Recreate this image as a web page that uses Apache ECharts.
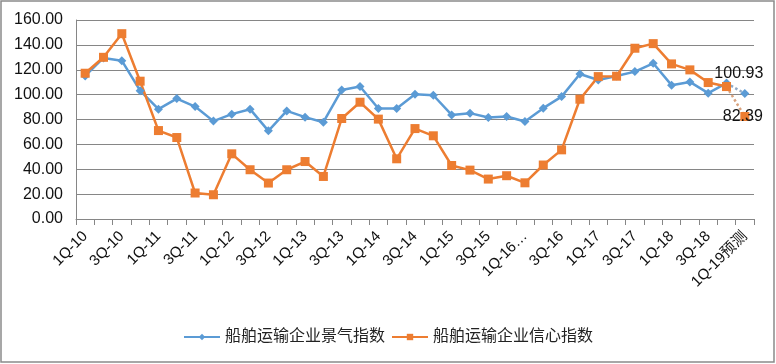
<!DOCTYPE html>
<html><head><meta charset="utf-8">
<script src="https://cdn.jsdelivr.net/npm/echarts@6/dist/echarts.min.js"></script>
<style>html,body{margin:0;padding:0;background:#fff}#c{width:776px;height:364px}</style>
</head><body><div id="c"></div>
<script>
const categories = ['1Q-10','2Q-10','3Q-10','4Q-10','1Q-11','2Q-11','3Q-11','4Q-11','1Q-12','2Q-12','3Q-12','4Q-12',
  '1Q-13','2Q-13','3Q-13','4Q-13','1Q-14','2Q-14','3Q-14','4Q-14','1Q-15','2Q-15','3Q-15','4Q-15',
  '1Q-16…','2Q-16','3Q-16','4Q-16','1Q-17','2Q-17','3Q-17','4Q-17','1Q-18','2Q-18','3Q-18','4Q-18','1Q-19预测'];
const prosperity = [115.0,129.5,127.3,103.2,88.3,96.8,90.4,78.7,84.3,88.3,70.9,86.9,81.9,77.8,103.8,106.5,88.8,88.8,100.3,99.5,83.7,85.1,81.6,82.4,78.4,89.1,98.4,116.6,111.8,115.0,118.5,125.2,107.6,110.2,101.2,109.2,100.93];
const confidence = [117.2,130.0,149.0,110.8,71.1,65.5,20.9,19.5,52.4,39.6,28.9,39.6,46.2,34.2,80.8,93.9,80.3,48.4,72.7,66.9,43.0,39.3,32.1,34.8,29.1,43.4,55.6,96.3,114.5,114.8,137.3,141.0,124.7,119.9,109.7,106.5,82.39];
const yTicks = {min:0, max:160, interval:20};
const nameA = '船舶运输企业景气指数';
const nameB = '船舶运输企业信心指数';

const last = categories.length - 1;
function actual(arr){ return arr.map((v,i)=> i < last ? v : null); }
function forecast(arr, labelPos, offset){
  return arr.map((v,i)=>{
    if (i === last) return {value:v, label:{show:true, position:labelPos, offset:offset, formatter:v.toFixed(2)}};
    if (i === last-1) return v;
    return null;
  });
}
const blue = '#5B9BD5', orange = '#ED7D31';
const font = "'Liberation Sans', Arial, 'Noto Sans CJK SC', sans-serif";
const chart = echarts.init(document.getElementById('c'));
chart.setOption({
  animation:false,
  textStyle:{fontFamily:font},
  graphic:[{type:'rect', shape:{x:1,y:1,width:773,height:361}, style:{fill:'none', stroke:'#8a8a8a', lineWidth:1.5}, silent:true}],
  grid:{left:76, right:22, top:20, bottom:145},
  legend:{data:[nameA,nameB], bottom:14, left:'center', itemWidth:36, itemHeight:8, itemGap:6,
    textStyle:{fontSize:16, color:'#222', fontFamily:font}},
  xAxis:{type:'category', data:categories, boundaryGap:true,
    axisLine:{lineStyle:{color:'#868686', width:1}},
    axisTick:{show:true, interval:0, length:6, lineStyle:{color:'#868686'}},
    axisLabel:{interval:1, rotate:45, fontSize:15, color:'#111', margin:15, fontFamily:font}},
  yAxis:{type:'value', min:yTicks.min, max:yTicks.max, interval:yTicks.interval,
    axisLine:{show:true, lineStyle:{color:'#868686'}},
    axisTick:{show:false},
    splitLine:{lineStyle:{color:'#868686', width:1}},
    axisLabel:{fontSize:16, color:'#111', margin:13, formatter:v=>v.toFixed(2), fontFamily:font}},
  series:[
    {name:nameA, type:'line', data:actual(prosperity), symbol:'diamond', symbolSize:9,
      itemStyle:{color:blue}, lineStyle:{color:blue, width:2.5}},
    {name:nameB, type:'line', data:actual(confidence), symbol:'rect', symbolSize:9,
      itemStyle:{color:orange}, lineStyle:{color:orange, width:2.5}},
    {name:nameA, type:'line', data:forecast(prosperity,'top',[-6,-2]), symbol:'diamond', symbolSize:9,
      itemStyle:{color:blue}, lineStyle:{color:'#8fa9c6', width:2.5, type:'dotted'},
      label:{fontSize:16, color:'#111', fontFamily:font}, connectNulls:false},
    {name:nameB, type:'line', data:forecast(confidence,'inside',[-2,0]), symbol:'rect', symbolSize:9,
      itemStyle:{color:orange}, lineStyle:{color:'#d9a27d', width:2.5, type:'dotted'},
      label:{fontSize:16, color:'#111', fontFamily:font}, connectNulls:false}
  ]
});
</script></body></html>
